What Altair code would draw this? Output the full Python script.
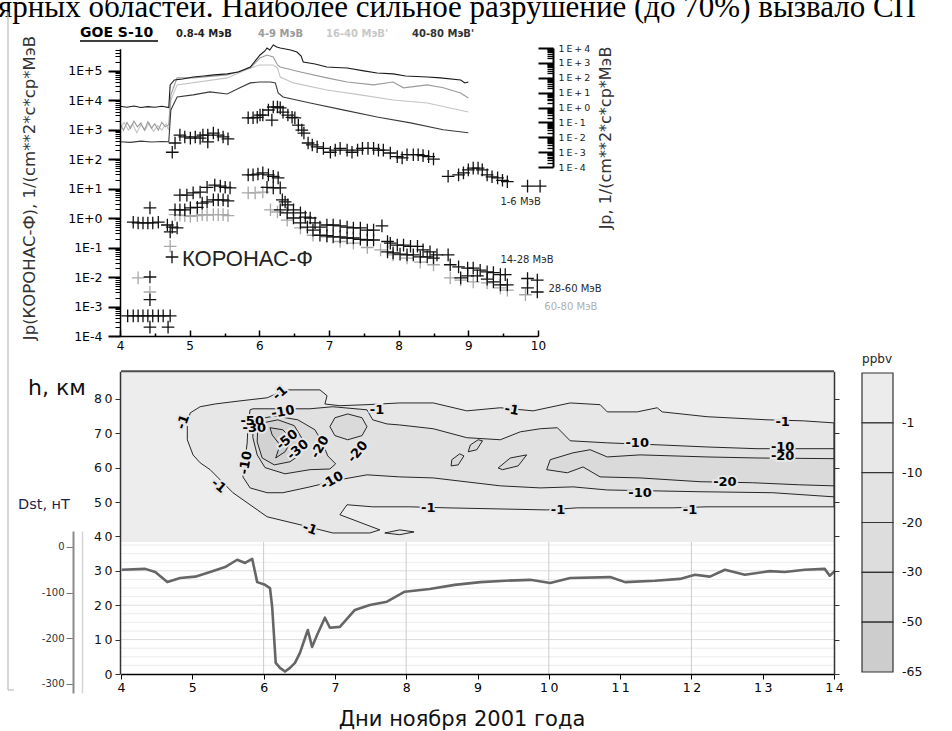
import altair as alt
import pandas as pd

# ---------------- figure geometry (pixel ranges of each panel) ----------------
FIG_W, FIG_H = 952, 731
TOP_XR = [120, 538]        # days 4..10
TOP_YR = [336, 48.7]       # CORONAS-F flux 1e-4 .. 5.5e5
GOES_YR = [167, 48]        # GOES flux 1e-4 .. 1e4
BOT_XR = [121, 834]        # days 4..14
H_YR = [674, 371.3]        # altitude 0..88 km
DST_YR = [693, 531]        # Dst -320..35 nT
LEG_XR = [862, 893]
LEG_YR = [672, 373]

SANS = "DejaVu Sans"
PLUS = "M-1,0L1,0M0,-1L0,1"


def lin(domain, rng):
    return alt.Scale(type="linear", domain=domain, range=rng, nice=False, zero=False)


def logs(domain, rng):
    return alt.Scale(type="log", domain=domain, range=rng, nice=False)


X_TOP = lin([4, 10], TOP_XR)
Y_TOP = logs([1e-4, 5.5e5], TOP_YR)
Y_GOES = logs([1e-4, 1e4], GOES_YR)
X_BOT = lin([4, 14], BOT_XR)
Y_H = lin([0, 88], H_YR)
Y_DST = lin([-320, 35], DST_YR)
X_LEG = lin([0, 1], LEG_XR)
Y_LEG = lin([0, 6], LEG_YR)

# ---------------- GOES-10 proton channels (day of Nov 2001, flux) ----------------
goes_08_4 = [(4.00, 1.2), (4.10, 1.05), (4.20, 1.25), (4.30, 1.0), (4.40, 1.15), (4.50, 1.05),
             (4.60, 1.2), (4.70, 1.0), (4.72, 33), (4.78, 71), (4.90, 83), (5.05, 112), (5.20, 132),
             (5.35, 155), (5.54, 182), (5.70, 245), (5.87, 525), (5.95, 1550), (6.01, 3400),
             (6.08, 6300), (6.11, 10000), (6.15, 7400), (6.20, 15800), (6.25, 11700), (6.30, 10000),
             (6.45, 7400), (6.54, 5400), (6.60, 2900), (6.63, 1150), (6.80, 850), (6.97, 525),
             (7.10, 490), (7.26, 455), (7.50, 290), (7.69, 210), (7.92, 182), (8.10, 132),
             (8.41, 112), (8.60, 98), (8.89, 71), (8.95, 45), (9.00, 52)]
goes_4_9 = [(4.00, 0.08), (4.05, 0.03), (4.10, 0.10), (4.15, 0.04), (4.20, 0.12), (4.25, 0.05),
            (4.30, 0.09), (4.35, 0.03), (4.40, 0.11), (4.45, 0.04), (4.50, 0.08), (4.55, 0.03),
            (4.60, 0.10), (4.65, 0.05), (4.70, 0.07), (4.73, 7.1), (4.82, 98), (5.05, 98),
            (5.54, 155), (5.87, 457), (6.01, 2140), (6.11, 3390), (6.20, 2510), (6.26, 724),
            (6.30, 525), (6.59, 245), (6.97, 98), (7.26, 52), (7.64, 33), (7.92, 52), (8.07, 21),
            (8.41, 33), (8.64, 21), (8.89, 9.5), (9.00, 4.4)]
goes_16_40 = [(4.00, 0.04), (4.06, 0.10), (4.12, 0.03), (4.18, 0.08), (4.24, 0.02), (4.30, 0.07),
              (4.36, 0.03), (4.42, 0.09), (4.48, 0.025), (4.54, 0.06), (4.60, 0.03), (4.66, 0.08),
              (4.70, 0.03), (4.73, 3.2), (4.82, 33), (5.54, 98), (5.87, 457), (6.01, 724),
              (6.20, 724), (6.26, 457), (6.30, 112), (6.49, 45), (6.97, 15), (7.45, 7.1),
              (7.92, 3.2), (8.41, 2.0), (9.00, 0.5)]
goes_40_80 = [(4.00, 0.005), (4.15, 0.0045), (4.30, 0.0055), (4.45, 0.0048), (4.60, 0.0052),
              (4.70, 0.005), (4.73, 0.69), (4.82, 5.1), (5.05, 7.1), (5.29, 11.2), (5.54, 8.1),
              (5.72, 21), (5.87, 45), (6.01, 52), (6.16, 52), (6.23, 45), (6.27, 9.5), (6.34, 5.1),
              (6.73, 2.0), (7.20, 0.69), (7.69, 0.23), (8.17, 0.093), (8.64, 0.032), (9.00, 0.020)]
GOES_CH = ["16-40", "4-9", "40-80", "0.8-4"]
GOES_COL = ["#c4c4c4", "#9a9a9a", "#3a3a3a", "#1a1a1a"]

# ---------------- CORONAS-F proton channels ----------------
k_1_6 = [(4.75, 170), (4.79, 350), (4.86, 650), (4.93, 560), (5.01, 510), (5.08, 560), (5.15, 510),
         (5.19, 650), (5.26, 650), (5.26, 380), (5.34, 760), (5.41, 650), (5.48, 560), (5.55, 480),
         (5.84, 2500), (5.91, 2500), (5.97, 2600), (6.01, 3100), (6.05, 3100), (6.13, 4600),
         (6.20, 5800), (6.26, 5800), (6.30, 5400), (6.18, 2100), (6.34, 3900), (6.41, 3100),
         (6.47, 2600), (6.51, 2500), (6.56, 1400), (6.61, 950), (6.64, 760), (6.70, 350),
         (6.76, 300), (6.83, 260), (6.92, 230), (7.02, 170), (7.09, 200), (7.16, 230), (7.26, 200),
         (7.33, 170), (7.41, 200), (7.48, 230), (7.56, 230), (7.64, 230), (7.71, 200), (7.78, 200),
         (7.88, 160), (7.98, 120), (8.05, 110), (8.12, 140), (8.21, 140), (8.28, 140), (8.35, 130),
         (8.43, 120), (8.50, 100), (8.71, 26), (8.86, 29), (8.93, 34), (9.00, 43), (9.07, 49),
         (9.14, 49), (9.20, 43), (9.27, 29), (9.34, 25), (9.42, 23), (9.49, 19), (9.56, 17),
         (9.85, 12), (10.03, 12)]
k_14_28 = [(4.19, 0.72), (4.26, 0.68), (4.33, 0.68), (4.40, 0.68), (4.47, 0.68), (4.55, 0.72),
           (4.43, 2.2), (4.68, 0.58), (4.75, 0.49), (4.82, 0.46), (4.72, 0.34), (4.86, 6.0),
           (4.96, 6.0), (5.05, 7.1), (5.15, 7.6), (5.25, 11), (5.36, 13), (5.44, 12), (5.51, 11),
           (5.58, 10.5), (5.84, 29), (5.91, 29), (5.98, 31), (6.05, 34), (6.13, 29), (6.20, 26),
           (6.27, 23), (6.33, 4.1), (6.37, 3.5), (6.41, 2.8), (6.49, 1.9), (6.59, 1.5), (6.66, 1.07),
           (6.73, 1.0), (6.80, 0.68), (6.87, 0.49), (6.97, 0.58), (7.06, 0.58), (7.16, 0.54),
           (7.26, 0.49), (7.35, 0.46), (7.45, 0.46), (7.55, 0.39), (7.64, 0.39), (7.76, 0.54),
           (7.84, 0.16), (7.88, 0.14), (7.98, 0.12), (8.07, 0.12), (8.17, 0.11), (8.27, 0.11),
           (8.35, 0.083), (8.45, 0.071), (8.55, 0.056), (8.71, 0.056), (8.74, 0.026), (8.86, 0.022),
           (8.99, 0.020), (9.07, 0.020), (9.17, 0.017), (9.27, 0.015), (9.36, 0.014), (9.46, 0.012),
           (9.53, 0.012), (9.85, 0.0089), (9.99, 0.0079)]
k_28_60 = [(4.11, 4.8e-4), (4.19, 4.8e-4), (4.26, 4.8e-4), (4.33, 4.8e-4), (4.40, 4.8e-4),
           (4.47, 4.8e-4), (4.55, 4.8e-4), (4.62, 4.8e-4), (4.72, 4.8e-4), (4.43, 2.0e-4),
           (4.69, 2.0e-4), (4.43, 1.0e-2), (4.43, 1.7e-3), (4.79, 1.9), (4.86, 1.9), (4.93, 1.9),
           (5.01, 2.2), (5.11, 2.3), (5.18, 3.2), (5.25, 3.5), (5.34, 4.1), (5.41, 4.1), (5.48, 4.1),
           (5.55, 3.8), (6.11, 11), (6.20, 10.5), (6.30, 10.5), (6.30, 1.9), (6.40, 1.5), (6.49, 1.0),
           (6.59, 0.68), (6.69, 0.49), (6.77, 0.39), (6.87, 0.26), (6.97, 0.25), (7.06, 0.23),
           (7.16, 0.23), (7.26, 0.21), (7.35, 0.21), (7.45, 0.19), (7.55, 0.18), (7.64, 0.18),
           (7.84, 0.071), (7.92, 0.066), (8.02, 0.060), (8.12, 0.056), (8.21, 0.056), (8.31, 0.048),
           (8.41, 0.048), (8.50, 0.044), (8.89, 0.0093), (8.99, 0.011), (9.13, 0.011), (9.27, 0.0085),
           (9.36, 0.0068), (9.46, 0.0054), (9.56, 0.0054), (9.85, 0.0043), (9.99, 0.0031)]
k_60_80 = [(4.26, 0.0093), (4.43, 0.0031), (4.72, 0.11), (4.79, 1.3), (4.86, 1.25), (4.93, 1.2),
           (5.01, 1.15), (5.11, 1.2), (5.18, 1.3), (5.25, 1.25), (5.34, 1.3), (5.41, 1.3), (5.48, 1.3),
           (5.55, 1.2), (5.84, 7.1), (5.94, 7.1), (6.05, 7.6), (6.16, 1.9), (6.26, 1.6), (6.40, 0.85),
           (6.59, 0.46), (6.77, 0.26), (6.97, 0.23), (7.16, 0.16), (7.35, 0.14), (7.55, 0.10),
           (7.74, 0.083), (7.92, 0.056), (8.12, 0.044), (8.31, 0.032), (8.50, 0.026), (8.74, 0.0093),
           (8.89, 0.0079), (9.07, 0.0068), (9.27, 0.0063), (9.46, 0.0043), (9.56, 0.0036),
           (9.82, 0.0025)]
KOR_BANDS = ["60-80", "1-6", "14-28", "28-60"]
KOR_COL = ["#a8a8a8", "#111111", "#111111", "#111111"]

# ---------------- Dst index (day, nT) ----------------
dst = [(4.01, -50), (4.34, -48), (4.48, -55), (4.65, -77), (4.83, -68), (5.04, -65), (5.25, -55),
       (5.46, -44), (5.63, -28), (5.74, -35), (5.84, -26), (5.91, -77), (6.02, -83), (6.09, -90),
       (6.12, -131), (6.17, -254), (6.23, -265), (6.30, -273), (6.37, -265), (6.44, -254),
       (6.51, -232), (6.58, -200), (6.62, -182), (6.68, -219), (6.75, -193), (6.86, -155),
       (6.93, -177), (7.07, -175), (7.28, -138), (7.49, -127), (7.73, -120), (7.98, -98),
       (8.33, -92), (8.68, -83), (9.04, -77), (9.39, -74), (9.74, -72), (10.02, -79), (10.30, -68),
       (10.86, -66), (11.07, -77), (11.49, -74), (11.84, -70), (12.05, -61), (12.26, -65),
       (12.47, -50), (12.75, -61), (13.10, -53), (13.31, -55), (13.59, -50), (13.87, -48),
       (13.94, -63), (14.01, -53)]

# ---------------- ozone change contours (day, altitude km), ppbv ----------------
c_m1 = [(4.97, 75.9), (5.11, 77.7), (5.32, 78.5), (5.67, 79.4), (6.05, 80.3), (6.30, 82.6),
        (6.79, 82.6), (6.89, 80.9), (6.86, 78.5), (7.07, 78.0), (7.45, 78.3), (7.91, 78.8),
        (8.38, 78.8), (8.85, 76.5), (9.32, 77.4), (9.78, 76.5), (10.30, 78.8), (10.72, 78.3),
        (10.82, 76.2), (11.24, 76.2), (11.52, 77.4), (11.59, 76.2), (12.22, 74.8), (13.06, 73.9),
        (13.57, 73.6), (14.0, 73.0), (14.0, 48.6), (12.22, 48.6), (11.74, 48.3), (10.40, 48.3),
        (9.97, 47.7), (8.57, 48.3), (8.05, 48.6), (7.53, 48.6), (7.17, 49.2), (7.07, 46.3),
        (7.63, 41.9), (7.49, 41.0), (6.97, 41.0), (6.51, 43.4), (6.05, 45.7), (5.57, 52.7),
        (5.25, 59.4), (5.11, 61.4), (5.01, 63.7), (4.93, 68.1), (4.93, 72.4), (4.97, 75.9)]
c_m1_small = [(7.70, 41.0), (7.91, 41.9), (8.11, 41.3), (7.91, 40.5), (7.70, 41.0)]
c_m10 = [(5.81, 76.8), (5.85, 77.1), (6.65, 77.1), (6.97, 77.7), (7.45, 76.8), (7.53, 73.9),
         (7.73, 72.7), (7.91, 72.4), (8.38, 71.3), (8.85, 68.7), (9.32, 68.1), (9.60, 70.4),
         (9.88, 71.3), (10.12, 71.6), (10.30, 67.8), (10.82, 67.2), (11.56, 66.6), (12.22, 66.0),
         (12.92, 65.5), (14.0, 65.5), (14.0, 51.5), (13.14, 52.7), (12.08, 53.0), (10.82, 53.5),
         (10.34, 54.4), (9.88, 54.1), (9.32, 54.7), (8.38, 57.0), (7.91, 57.3), (7.45, 57.9),
         (7.07, 56.5), (6.65, 54.4), (6.27, 52.7), (6.05, 52.7), (5.81, 54.1), (5.71, 57.3),
         (5.74, 62.3), (5.77, 67.2), (5.78, 71.9), (5.81, 76.8)]
c_m20_band = [(9.97, 59.4), (10.02, 62.3), (10.34, 64.3), (10.58, 65.2), (10.82, 63.1), (11.28, 63.7),
              (12.22, 63.1), (12.92, 62.8), (14.0, 62.6), (14.0, 54.7), (13.52, 55.0), (12.86, 55.6),
              (12.12, 55.9), (11.28, 57.0), (10.72, 57.3), (10.48, 60.2), (10.26, 58.5), (9.97, 59.4)]
c_m20_a = [(8.90, 66.6), (9.01, 68.1), (9.07, 67.8), (8.99, 65.2), (8.87, 64.6), (8.90, 66.6)]
c_m20_b = [(8.64, 62.3), (8.75, 64.0), (8.81, 63.4), (8.73, 60.8), (8.63, 60.5), (8.64, 62.3)]
c_m20_c = [(9.29, 59.9), (9.46, 62.8), (9.69, 63.7), (9.57, 60.5), (9.35, 59.4), (9.29, 59.9)]
c_m20_core = [(5.85, 73.9), (6.16, 75.0), (6.48, 73.9), (6.72, 71.0), (6.82, 67.5), (6.90, 63.4),
              (7.01, 61.1), (6.93, 59.6), (6.65, 59.4), (6.30, 58.2), (6.02, 60.0), (5.91, 63.7),
              (5.85, 68.7), (5.85, 73.9)]
c_m20_cell = [(6.93, 71.9), (7.00, 74.5), (7.18, 75.6), (7.38, 74.5), (7.45, 71.9), (7.38, 69.3),
              (7.18, 68.1), (7.00, 69.3), (6.93, 71.9)]
c_m30 = [(5.92, 72.7), (6.20, 73.9), (6.43, 72.2), (6.55, 68.1), (6.51, 63.7), (6.37, 61.7),
         (6.15, 60.8), (5.98, 62.8), (5.91, 67.5), (5.92, 72.7)]
c_m50 = [(6.09, 71.6), (6.27, 71.0), (6.40, 68.1), (6.30, 64.6), (6.17, 62.8), (6.23, 66.6),
         (6.12, 69.5), (6.09, 71.6)]

CONTOUR_LEVELS = [
    ("-1", "#e7e7e7", [c_m1, c_m1_small]),
    ("-10", "#e1e1e1", [c_m10]),
    ("-20", "#dadada", [c_m20_band, c_m20_a, c_m20_b, c_m20_c, c_m20_core, c_m20_cell]),
    ("-30", "#d2d2d2", [c_m30]),
    ("-50", "#cbcbcb", [c_m50]),
]

contour_labels = [("-1", 4.87, 73.3, 290), ("-1", 6.23, 81.7, 320), ("-10", 6.27, 76.2, 350),
                  ("-1", 7.59, 76.8, 0), ("-1", 9.48, 76.8, 10), ("-1", 13.28, 73.3, 0),
                  ("-10", 11.24, 67.2, 0), ("-10", 13.28, 66.0, 0), ("-20", 13.28, 63.4, 0),
                  ("-20", 12.47, 55.9, 0), ("-10", 11.28, 52.7, 0), ("-1", 11.98, 47.7, 0),
                  ("-1", 10.13, 47.7, 0), ("-1", 8.31, 48.3, 0), ("-1", 6.65, 42.2, 20),
                  ("-1", 5.37, 54.7, 40), ("-10", 6.96, 56.2, 330), ("-20", 7.32, 64.6, 310),
                  ("-10", 5.75, 61.4, 280), ("-50", 5.84, 73.6, 0), ("-30", 5.87, 71.6, 0),
                  ("-50", 6.33, 68.1, 320), ("-30", 6.48, 65.2, 320), ("-20", 6.79, 66.0, 300)]

# colour key of the contour plot (top to bottom)
legend_levels = ["-1", "-10", "-20", "-30", "-50", "-65"]
legend_fills = ["#ececec", "#e8e8e8", "#e3e3e3", "#dddddd", "#d4d4d4", "#cdcdcd"]

DAY_TICKS_TOP = list(range(4, 11))
DAY_TICKS_BOT = list(range(4, 15))
H_TICKS = list(range(0, 81, 10))
DST_TICKS = [0, -100, -200, -300]
DST_VGRID = [6, 8, 10, 12]
DST_HGRID = [2.5, 5, 7.5, 10, 12.5, 15, 17.5, 20, 22.5, 25, 27.5, 30, 32.5, 35, 37.5]

MAJ_TOP = [10.0 ** e for e in range(-4, 6)]
MIN_TOP = [k * 10.0 ** e for e in range(-4, 6) for k in range(2, 10) if k * 10.0 ** e <= 5.5e5]
MAJ_GOES = [10.0 ** e for e in range(-4, 5)]
MIN_GOES = [k * 10.0 ** e for e in range(-4, 4) for k in range(2, 10)]

EXP_LABEL = "'1E' + (datum.value >= 1 ? '+' : '-') + abs(round(log(datum.value) / LN10))"
EXP_LABEL_SPACED = "join(split(" + EXP_LABEL + ", ''), '\u2009')"
SPACED = "join(split(datum.label, ''), '\u2009')"

# ---------------- tables ----------------
ONE = pd.DataFrame({"k": [0]})


def pairs(rows, cols, **extra):
    df = pd.DataFrame(rows, columns=cols)
    for key, val in extra.items():
        df[key] = val
    return df


goes_df = pd.concat([pairs(goes_16_40, ["d", "v"], ch="16-40"),
                     pairs(goes_4_9, ["d", "v"], ch="4-9"),
                     pairs(goes_40_80, ["d", "v"], ch="40-80"),
                     pairs(goes_08_4, ["d", "v"], ch="0.8-4")], ignore_index=True)
kor_df = pd.concat([pairs(k_60_80, ["d", "v"], band="60-80"),
                    pairs(k_1_6, ["d", "v"], band="1-6"),
                    pairs(k_14_28, ["d", "v"], band="14-28"),
                    pairs(k_28_60, ["d", "v"], band="28-60")], ignore_index=True)
dst_df = pairs(dst, ["d", "s"])

layers = []


def note(text, x, y, size=12, font=SANS, color="black", align="left", baseline="middle",
         weight="normal", angle=0):
    return alt.Chart(ONE).mark_text(text=text, font=font, fontSize=size, color=color, align=align,
                                    baseline=baseline, fontWeight=weight, angle=angle).encode(
        x=alt.value(x), y=alt.value(y))


# page text above the figure and the page frame
layers.append(note("ярных областей. Наиболее сильное разрушение (до 70%) вызвало СП", -2, 17,
                   size=31, font="Liberation Serif", baseline="alphabetic"))
layers.append(alt.Chart(ONE).mark_rule(color="#bdbdbd", strokeWidth=1.2).encode(
    x=alt.value(8), y=alt.value(12), y2=alt.value(690)))
layers.append(alt.Chart(ONE).mark_rule(color="#bdbdbd", strokeWidth=1.2).encode(
    x=alt.value(8), x2=alt.value(14), y=alt.value(690)))

# ---------------- upper panel: particle fluxes ----------------
layers.append(alt.Chart(goes_df).mark_line(strokeWidth=1.1).encode(
    x=alt.X("d:Q", scale=X_TOP, axis=None),
    y=alt.Y("v:Q", scale=Y_GOES, axis=None),
    color=alt.Color("ch:N", scale=alt.Scale(domain=GOES_CH, range=GOES_COL), legend=None)))

layers.append(alt.Chart(kor_df).mark_point(shape=PLUS, filled=False, size=160, strokeWidth=1.3,
                                           opacity=1).encode(
    x=alt.X("d:Q", scale=X_TOP, axis=None),
    y=alt.Y("v:Q", scale=Y_TOP, axis=None),
    color=alt.Color("band:N", scale=alt.Scale(domain=KOR_BANDS, range=KOR_COL), legend=None)))

band_labels = pd.DataFrame({
    "t": ["1-6 МэВ", "14-28 МэВ", "28-60 МэВ", "60-80 МэВ"],
    "d": [9.46, 9.46, 10.15, 10.09],
    "v": [3.5, 0.038, 0.0039, 9.5e-4],
    "c": ["#2a2a2a", "#2a2a2a", "#2a2a2a", "#b0b0b0"],
})
layers.append(alt.Chart(band_labels).mark_text(align="left", baseline="middle", font=SANS,
                                               fontSize=10).encode(
    x=alt.X("d:Q", scale=X_TOP, axis=None),
    y=alt.Y("v:Q", scale=Y_TOP, axis=None),
    text="t:N",
    color=alt.Color("c:N", scale=None)))

# axes of the upper panel
ax_top = pd.DataFrame({"d": [5.0], "v": [1.0]})
layers.append(alt.Chart(ax_top).mark_point(opacity=0).encode(
    x=alt.X("d:Q", scale=X_TOP, axis=alt.Axis(
        orient="bottom", offset=336 - FIG_H, values=DAY_TICKS_TOP, tickSize=0, domainColor="black",
        domainWidth=1.5, labelFont=SANS, labelFontSize=12, labelColor="black", labelPadding=4,
        labelFlush=False, grid=False, title="", zindex=1)),
    y=alt.Y("v:Q", scale=Y_TOP, axis=alt.Axis(
        orient="left", offset=-120, values=MAJ_TOP, labelExpr=EXP_LABEL, tickSize=12, tickWidth=2,
        tickColor="black", domainColor="black", domainWidth=1.5, labelFont=SANS, labelFontSize=12.5,
        labelColor="black", labelPadding=6, labelOverlap=False, labelFlush=False, grid=False,
        title="", zindex=1))))
layers.append(alt.Chart(ax_top).mark_point(opacity=0).encode(
    x=alt.X("d:Q", scale=X_TOP, axis=alt.Axis(
        orient="top", offset=-336, values=DAY_TICKS_TOP, labels=False, domain=False, tickSize=6,
        tickWidth=1.5, tickColor="black", grid=False, title="", zindex=1)),
    y=alt.Y("v:Q", scale=Y_TOP, axis=alt.Axis(
        orient="left", offset=-120, values=MIN_TOP, labels=False, domain=False, tickSize=5,
        tickWidth=1, tickColor="black", grid=False, title="", zindex=1))))
ax_goes = pd.DataFrame({"d": [5.0], "g": [1.0]})
layers.append(alt.Chart(ax_goes).mark_point(opacity=0).encode(
    x=alt.X("d:Q", scale=X_TOP, axis=alt.Axis(
        orient="top", offset=-336, values=[4.5, 5.5, 6.5, 7.5, 8.5, 9.5], labels=False,
        domain=False, tickSize=3, tickWidth=1.5, tickColor="black", grid=False, title="",
        zindex=1)),
    y=alt.Y("g:Q", scale=Y_GOES, axis=alt.Axis(
        orient="right", offset=553 - FIG_W, values=MAJ_GOES, labelExpr=EXP_LABEL_SPACED, tickSize=0,
        domainColor="black", domainWidth=2, labelFont=SANS, labelFontSize=9.5, labelColor="#222222",
        labelPadding=5, labelOverlap=False, labelFlush=False, grid=False, title="", zindex=1))))
layers.append(alt.Chart(ax_goes).mark_point(opacity=0).encode(
    x=alt.X("d:Q", scale=X_TOP, axis=None),
    y=alt.Y("g:Q", scale=Y_GOES, axis=alt.Axis(
        orient="left", offset=-553, values=MAJ_GOES, labels=False, domain=False, tickSize=15,
        tickWidth=2, tickColor="black", grid=False, title="", zindex=1))))
layers.append(alt.Chart(ax_goes).mark_point(opacity=0).encode(
    x=alt.X("d:Q", scale=X_TOP, axis=None),
    y=alt.Y("g:Q", scale=Y_GOES, axis=alt.Axis(
        orient="left", offset=-553, values=MIN_GOES, labels=False, domain=False, tickSize=6,
        tickWidth=1.3, tickColor="black", grid=False, title="", zindex=1))))

# header and titles of the upper panel
layers.append(note("GOE S-10", 80, 33, size=14, weight="bold"))
layers.append(alt.Chart(ONE).mark_rule(color="black", strokeWidth=1.5).encode(
    x=alt.value(80), x2=alt.value(158), y=alt.value(41)))
layers.append(note("0.8-4 МэВ", 176, 34, size=10, weight="bold", color="#222222"))
layers.append(note("4-9 МэВ", 258, 34, size=10, weight="bold", color="#9a9a9a"))
layers.append(note("16-40 МэВ'", 326, 34, size=10, weight="bold", color="#c8c8c8"))
layers.append(note("40-80 МэВ'", 412, 34, size=10, weight="bold", color="#333333"))
layers.append(note("Jp(КОРОНАС-Ф), 1/(cm**2*c*cp*MэВ", 30, 188, size=16.5, color="#333333",
                   align="center", angle=270))
layers.append(note("Jp, 1/(cm**2*c*cp*MэВ", 606, 138, size=16, color="#333333", align="center",
                   angle=270))
layers.append(alt.Chart(ONE).mark_point(shape=PLUS, filled=False, size=160, strokeWidth=1.3,
                                        color="#111111", opacity=1).encode(
    x=alt.value(172), y=alt.value(257)))
layers.append(note("КОРОНАС-Ф", 182, 259, size=22, font="Liberation Sans", color="#222222"))

# ---------------- lower panel: ozone change and Dst ----------------
box = pd.DataFrame({"d0": [4.0], "d1": [14.0], "h0": [38.4], "h1": [88.0]})
layers.append(alt.Chart(box).mark_rect(color="#ededed").encode(
    x=alt.X("d0:Q", scale=X_BOT, axis=None), x2="d1:Q",
    y=alt.Y("h0:Q", scale=Y_H, axis=None), y2="h1:Q"))

for level, fill, shapes in CONTOUR_LEVELS:
    rows = []
    for n, shape in enumerate(shapes):
        for i, (d, h) in enumerate(shape):
            rows.append({"d": d, "h": h, "i": i, "shape": f"{level}_{n}"})
    layers.append(alt.Chart(pd.DataFrame(rows)).mark_line(
        fill=fill, stroke="#111111", strokeWidth=0.9, strokeJoin="round").encode(
        x=alt.X("d:Q", scale=X_BOT, axis=None),
        y=alt.Y("h:Q", scale=Y_H, axis=None),
        detail="shape:N",
        order="i:Q"))

lab_df = pd.DataFrame(contour_labels, columns=["t", "d", "h", "a"])
layers.append(alt.Chart(lab_df).mark_text(font=SANS, fontSize=13, fontWeight="bold",
                                          color="#e6e6e6", stroke="#e6e6e6",
                                          strokeWidth=4).encode(
    x=alt.X("d:Q", scale=X_BOT, axis=None), y=alt.Y("h:Q", scale=Y_H, axis=None),
    text="t:N", angle=alt.Angle("a:Q", scale=None)))
layers.append(alt.Chart(lab_df).mark_text(font=SANS, fontSize=13, fontWeight="bold",
                                          color="#000000").encode(
    x=alt.X("d:Q", scale=X_BOT, axis=None), y=alt.Y("h:Q", scale=Y_H, axis=None),
    text="t:N", angle=alt.Angle("a:Q", scale=None)))

layers.append(alt.Chart(box).mark_rule(color="#4d4d4d", strokeWidth=2).encode(
    x=alt.X("d0:Q", scale=X_BOT, axis=None), x2="d1:Q",
    y=alt.Y("h1:Q", scale=Y_H, axis=None)))

# Dst panel grid
hgrid = pd.DataFrame({"h": DST_HGRID, "d0": 4.0, "d1": 14.0})
hgrid["c"] = ["#dcdcdc" if h % 10 == 0 else "#ececec" for h in DST_HGRID]
layers.append(alt.Chart(hgrid).mark_rule(strokeWidth=1).encode(
    x=alt.X("d0:Q", scale=X_BOT, axis=None), x2="d1:Q",
    y=alt.Y("h:Q", scale=Y_H, axis=None), color=alt.Color("c:N", scale=None)))
vgrid = pd.DataFrame({"d": DST_VGRID, "h0": 0.0, "h1": 38.4})
layers.append(alt.Chart(vgrid).mark_rule(color="#cccccc", strokeWidth=1).encode(
    x=alt.X("d:Q", scale=X_BOT, axis=None),
    y=alt.Y("h0:Q", scale=Y_H, axis=None), y2="h1:Q"))

layers.append(alt.Chart(dst_df).mark_line(color="#666666", strokeWidth=2.6, strokeJoin="round").encode(
    x=alt.X("d:Q", scale=X_BOT, axis=None),
    y=alt.Y("s:Q", scale=Y_DST, axis=None)))

# axes of the lower panel
ax_bot = pd.DataFrame({"d": [5.0], "h": [10.0], "s": [-100.0]})
layers.append(alt.Chart(ax_bot).mark_point(opacity=0).encode(
    x=alt.X("d:Q", scale=X_BOT, axis=alt.Axis(
        orient="bottom", offset=674 - FIG_H, values=DAY_TICKS_BOT, tickSize=5, tickColor="black",
        domainColor="black", domainWidth=1.5, labelFont=SANS, labelFontSize=12.5,
        labelColor="black", labelExpr=SPACED, labelPadding=2, labelFlush=False, grid=False,
        title="", zindex=1)),
    y=alt.Y("h:Q", scale=Y_H, axis=alt.Axis(
        orient="left", offset=-120, values=H_TICKS, tickSize=5, tickColor="#333333",
        domainColor="#333333", domainWidth=1.5, labelFont=SANS, labelFontSize=12.5,
        labelColor="#111111", labelExpr=SPACED, labelPadding=3, labelFlush=False, grid=False,
        title="", zindex=1))))
layers.append(alt.Chart(ax_bot).mark_point(opacity=0).encode(
    x=alt.X("d:Q", scale=X_BOT, axis=None),
    y=alt.Y("h:Q", scale=Y_H, axis=alt.Axis(
        orient="right", offset=834 - FIG_W, values=H_TICKS, labels=False, tickSize=5,
        tickColor="#333333", domainColor="#333333", domainWidth=1.5, grid=False, title="",
        zindex=1))))
layers.append(alt.Chart(ax_bot).mark_point(opacity=0).encode(
    x=alt.X("d:Q", scale=X_BOT, axis=None),
    y=alt.Y("s:Q", scale=Y_DST, axis=alt.Axis(
        orient="left", offset=-73, values=DST_TICKS, tickSize=7, tickColor="#777777",
        domainColor="#8a8a8a", domainWidth=2, labelFont=SANS, labelFontSize=10,
        labelColor="#333333", labelExpr="'' + datum.value", labelPadding=2, labelFlush=False,
        grid=False, title="", zindex=1))))
layers.append(alt.Chart(ax_bot).mark_point(opacity=0).encode(
    x=alt.X("d:Q", scale=X_BOT, axis=None),
    y=alt.Y("s:Q", scale=Y_DST, axis=alt.Axis(
        orient="left", offset=-82, values=DST_TICKS, labels=False, ticks=False,
        domainColor="#d4d4d4", domainWidth=1.5, grid=False, title="", zindex=1))))

layers.append(note("h, км", 28, 388, size=22, color="#111111"))
layers.append(note("Dst, нТ", 18, 505, size=14.5, color="#1e1e50"))
layers.append(note("Дни ноября 2001 года", 462, 720, size=21, color="#111111", align="center"))

# colour key
n_lev = len(legend_levels)
key = pd.DataFrame({
    "x0": 0.0, "x1": 1.0,
    "y0": [n_lev - 1 - i for i in range(n_lev)],
    "y1": [n_lev - i for i in range(n_lev)],
    "fill": legend_fills,
    "t": legend_levels,
})
layers.append(alt.Chart(key).mark_rect(stroke="#333333", strokeWidth=1.2).encode(
    x=alt.X("x0:Q", scale=X_LEG, axis=None), x2="x1:Q",
    y=alt.Y("y0:Q", scale=Y_LEG, axis=None), y2="y1:Q",
    color=alt.Color("fill:N", scale=None)))
layers.append(alt.Chart(key).mark_text(align="left", baseline="middle", font=SANS, fontSize=12.5,
                                       dx=9, color="#111111").encode(
    x=alt.X("x1:Q", scale=X_LEG, axis=None),
    y=alt.Y("y0:Q", scale=Y_LEG, axis=None),
    text="t:N"))
layers.append(note("ppbv", 877, 359, size=12, color="#222222", align="center"))

chart = alt.layer(*layers).resolve_scale(
    x="independent", y="independent", color="independent"
).properties(
    width=FIG_W, height=FIG_H, autosize=alt.AutoSizeParams(type="none"), padding=0
).configure_view(strokeWidth=0)

chart.save("out.html", embed_options={"renderer": "svg", "actions": False})
